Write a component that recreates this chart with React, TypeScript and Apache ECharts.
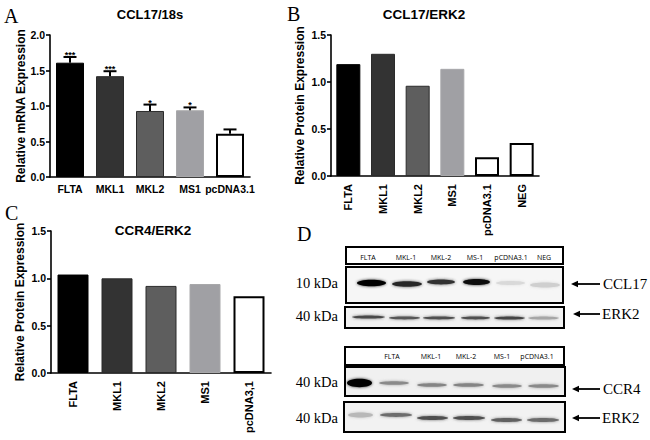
import React, { useEffect, useRef } from "react";
import * as echarts from "echarts";

const catsA = ["FLTA", "MKL1", "MKL2", "MS1", "pcDNA3.1"];
const valsA = [1.61, 1.42, 0.93, 0.94, 0.61];
const errTopA = [1.69, 1.49, 1.02, 0.98, 0.67];
const starsA = ["***", "***", "*", "*", ""];
const catsB = ["FLTA", "MKL1", "MKL2", "MS1", "pcDNA3.1", "NEG"];
const valsB = [1.19, 1.3, 0.96, 1.14, 0.2, 0.35];
const catsC = ["FLTA", "MKL1", "MKL2", "MS1", "pcDNA3,1"];
const valsC = [1.04, 1.0, 0.92, 0.94, 0.81];
const barFills = ["#000000", "#333333", "#5e5e5e", "#a0a0a4", "#ffffff", "#ffffff"];

const blotLabelsTop = ["FLTA", "MKL-1", "MKL-2", "MS-1", "pCDNA3.1", "NEG"];
const blotLabelsBottom = ["FLTA", "MKL-1", "MKL-2", "MS-1", "pCDNA3.1"];
const ccl17Darkness = [1, 0.85, 0.8, 0.95, 0.08, 0.12];
const erk2TopDarkness = [0.7, 0.65, 0.68, 0.68, 0.72, 0.3];
const ccr4Darkness = [1, 0.42, 0.45, 0.45, 0.42, 0.42];
const erk2BottomDarkness = [0.22, 0.55, 0.68, 0.68, 0.6, 0.55];

const SANS = "Liberation Sans, Arial, sans-serif";
const SERIF = "Liberation Serif, Times New Roman, serif";

function barSeries(vals: number[], idx: number, width: number) {
  return {
    type: "bar",
    xAxisIndex: idx,
    yAxisIndex: idx,
    barWidth: width,
    data: vals.map((v, i) => ({
      value: v,
      itemStyle: {
        color: barFills[i],
        borderColor: i >= 4 ? "#000" : i === 0 ? "#000" : i === 3 ? "#a8a8aa" : "#2b2b2b",
        borderWidth: i >= 4 ? 2 : 1,
      },
    })),
  };
}

function xAxis(cats: string[], idx: number, rotate: number) {
  return {
    type: "category",
    gridIndex: idx,
    data: cats,
    axisLine: { onZero: false, lineStyle: { color: "#000", width: 1.6 } },
    axisTick: { alignWithLabel: true, length: 4, lineStyle: { color: "#000", width: 1.6 } },
    axisLabel: {
      color: "#000",
      fontFamily: SANS,
      fontWeight: "bold",
      fontSize: rotate ? 11 : 10.5,
      rotate,
      margin: rotate ? 8 : 6,
      interval: 0,
      hideOverlap: false,
    },
  };
}

function yAxis(idx: number, max: number, name: string, gap: number) {
  return {
    type: "value",
    gridIndex: idx,
    min: 0,
    max,
    interval: 0.5,
    name,
    nameLocation: "middle",
    nameRotate: 90,
    nameGap: gap,
    nameTextStyle: { color: "#000", fontFamily: SANS, fontWeight: "bold", fontSize: 12 },
    splitLine: { show: false },
    axisLine: { show: true, lineStyle: { color: "#000", width: 1.6 } },
    axisTick: { show: true, length: 4, lineStyle: { color: "#000", width: 1.6 } },
    axisLabel: {
      color: "#000",
      fontFamily: SANS,
      fontWeight: "bold",
      fontSize: 10.5,
      margin: 5,
      formatter: (v: number) => v.toFixed(1),
    },
  };
}

function title(text: string, cx: number, top: number, size: number) {
  return {
    text,
    left: cx,
    top,
    textAlign: "center",
    padding: 0,
    textStyle: { color: "#000", fontFamily: SANS, fontWeight: "bold", fontSize: size },
  };
}

const serifText = (text: string, x: number, y: number, size: number, align = "left") => ({
  type: "text",
  x,
  y,
  silent: true,
  style: { text, fontFamily: SERIF, fontSize: size, fill: "#000", textAlign: align, textVerticalAlign: "middle" },
});

const frame = (x0: number, y0: number, x1: number, y1: number, fill: string) => ({
  type: "rect",
  silent: true,
  shape: { x: x0, y: y0, width: x1 - x0, height: y1 - y0 },
  style: { fill, stroke: "#000", lineWidth: 2 },
});

const arrow = (x0: number, x1: number, y: number) => ({
  type: "group",
  silent: true,
  children: [
    { type: "line", shape: { x1: x0 + 3, y1: y, x2: x1, y2: y }, style: { stroke: "#000", lineWidth: 1.8 } },
    {
      type: "polygon",
      shape: { points: [[x0, y], [x0 + 7, y - 3.2], [x0 + 7, y + 3.2]] },
      style: { fill: "#000" },
    },
  ],
});

const laneLabels = (labels: string[], xs: number[], y: number) =>
  labels.map((text, i) => ({
    type: "text",
    x: xs[i],
    y,
    silent: true,
    style: {
      text,
      fontFamily: "Open Sans, sans-serif",
      fontSize: 7,
      fill: "#000",
      textAlign: "center",
      textVerticalAlign: "middle",
    },
  }));

const bands = (dark: number[], xs: number[][], ys: number[], hs: number[]) =>
  dark.map((d, i) => {
    const g = Math.round(235 - 230 * d);
    return {
      type: "ellipse",
      silent: true,
      shape: { cx: (xs[i][0] + xs[i][1]) / 2, cy: ys[i], rx: (xs[i][1] - xs[i][0]) / 2, ry: hs[i] },
      style: {
        fill: `rgb(${g},${g},${g})`,
        shadowBlur: 3,
        shadowColor: `rgba(${g},${g},${g},0.8)`,
      },
    };
  });

function buildOption() {
  return {
    animation: false,
    backgroundColor: "#fff",
    title: [title("CCL17/18s", 150, 8, 13), title("CCL17/ERK2", 424, 7, 13.5), title("CCR4/ERK2", 153, 223, 13.5)],
    grid: [
      { left: 50, top: 35, width: 200, height: 142 },
      { left: 331, top: 35, width: 208, height: 141 },
      { left: 51, top: 231, width: 220, height: 142 },
    ],
    xAxis: [xAxis(catsA, 0, 0), xAxis(catsB, 1, 90), xAxis(catsC, 2, 90)],
    yAxis: [
      yAxis(0, 2, "Relative mRNA Expression", 23),
      yAxis(1, 1.5, "Relative Protein Expression", 25),
      yAxis(2, 1.5, "Relative Protein Expression", 25),
    ],
    series: [
      barSeries(valsA, 0, 28),
      barSeries(valsB, 1, 24),
      barSeries(valsC, 2, 31),
      {
        type: "custom",
        xAxisIndex: 0,
        yAxisIndex: 0,
        z: 5,
        encode: { x: 0, y: 1 },
        data: errTopA.map((v, i) => [i, v, valsA[i]]),
        renderItem: (params: any, api: any) => {
          const i = api.value(0);
          const top = api.coord([i, api.value(1)]);
          const base = api.coord([i, api.value(2)]);
          const line = (x1: number, y1: number, x2: number, y2: number) => ({
            type: "line",
            shape: { x1, y1, x2, y2 },
            style: { stroke: "#000", lineWidth: 2, fill: "none" },
          });
          const children: any[] = [
            line(top[0], top[1], top[0], base[1]),
            line(top[0] - 6.5, top[1], top[0] + 6.5, top[1]),
          ];
          const stars = starsA[params.dataIndex];
          if (stars) {
            children.push({
              type: "text",
              style: {
                text: stars,
                x: top[0],
                y: top[1] - 2,
                fontFamily: SANS,
                fontWeight: "bold",
                fontSize: 9,
                fill: "#000",
                textAlign: "center",
                textVerticalAlign: "middle",
              },
            });
          }
          return { type: "group", children };
        },
      },
    ],
    graphic: [
      serifText("A", 4, 16, 20),
      serifText("B", 287, 14, 20),
      serifText("C", 5, 213, 20),
      serifText("D", 297, 234, 20),
      frame(346, 247, 563, 264, "#fff"),
      frame(346, 267, 563, 303, "#f6f6f6"),
      frame(345, 307, 564, 328, "#f2f2f2"),
      frame(345, 347, 564, 365, "#fff"),
      frame(345, 367, 565, 396, "#f0f0f0"),
      frame(344, 402, 565, 432, "#f2f2f2"),
      ...laneLabels(blotLabelsTop, [368, 406, 441, 475, 511, 544], 257),
      ...laneLabels(blotLabelsBottom, [392, 431, 466, 502, 537], 356),
      ...bands(ccl17Darkness, [[357, 386], [392, 422], [427, 455], [463, 490], [496, 525], [530, 560]], [283, 284, 282, 282, 283, 285], [3.2, 2.8, 2.4, 3, 2, 2.5]),
      ...bands(erk2TopDarkness, [[352, 385], [389, 420], [423, 455], [461, 490], [494, 525], [528, 559]], [317, 318, 318, 318, 318, 318], [1.6, 1.4, 1.4, 1.4, 1.6, 1.6]),
      ...bands(ccr4Darkness, [[347, 372], [379, 409], [417, 447], [453, 484], [492, 522], [528, 559]], [383, 383, 385, 385, 386, 386], [4.2, 1.8, 1.8, 1.8, 1.8, 1.8]),
      ...bands(erk2BottomDarkness, [[348, 373], [380, 412], [417, 448], [453, 485], [491, 522], [527, 559]], [415, 415, 418, 418, 420, 420], [2.5, 1.9, 2, 2, 2, 2]),
      serifText("10 kDa", 338, 283, 14.5, "right"),
      serifText("40 kDa", 338, 316, 14.5, "right"),
      serifText("40 kDa", 338, 382, 14.5, "right"),
      serifText("40 kDa", 338, 418, 14.5, "right"),
      serifText("CCL17", 603, 284, 15),
      serifText("ERK2", 602, 314, 15),
      serifText("CCR4", 603, 389, 15),
      serifText("ERK2", 602, 418, 15),
      arrow(571, 600, 284),
      arrow(573, 600, 314),
      arrow(572, 600, 389),
      arrow(572, 600, 418),
    ],
  };
}

export default function App() {
  const ref = useRef<HTMLDivElement>(null);
  useEffect(() => {
    const chart = echarts.init(ref.current!, undefined, { renderer: "svg" });
    chart.setOption(buildOption() as any);
    return () => chart.dispose();
  }, []);
  return <div ref={ref} style={{ position: "absolute", left: 0, top: 0, width: 650, height: 440 }} />;
}
